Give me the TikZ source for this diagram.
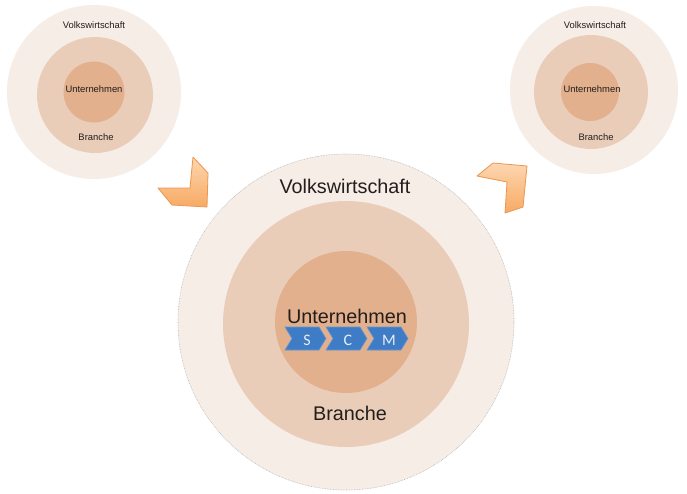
\documentclass[tikz,border=0pt]{standalone}
\usepackage{fontspec}
\setmainfont{Liberation Sans}
\newfontfamily\scmfont{Carlito}
\definecolor{ringA}{RGB}{246,237,231}
\definecolor{ringB}{RGB}{234,205,185}
\definecolor{ringC}{RGB}{226,176,141}
\definecolor{txt}{RGB}{35,30,28}
\definecolor{chevblue}{RGB}{62,124,198}
\definecolor{chevedge}{RGB}{100,150,212}
\definecolor{arrlight}{RGB}{253,214,176}
\definecolor{arrdark}{RGB}{247,170,100}
\definecolor{arredge}{RGB}{236,150,80}
\begin{document}
\begin{tikzpicture}[x=1pt,y=-1pt,
  disc/.style={circle,inner sep=0pt,draw=none},
  bigtext/.style={anchor=base,inner sep=0pt,text=txt,font=\fontsize{19.8}{22}\selectfont},
  smalltext/.style={anchor=base,inner sep=0pt,text=txt,font=\fontsize{9.4}{11}\selectfont},
  scmchev/.style={fill=chevblue,draw=chevedge,line width=0.6pt},
  scmtext/.style={anchor=base,inner sep=0pt,text=white!88!chevblue,font=\scmfont\fontsize{16}{18}\selectfont},
  orangearrow/.style={draw=arredge,line width=0.8pt,line join=round,top color=arrlight,bottom color=arrdark}
]
\useasboundingbox (0,0) rectangle (687,493);
\fill[white] (0,0) rectangle (687,493);

% ---- left small circles ----
\node[disc,fill=ringA,minimum size=174pt] (lo) at (94,92) {};
\node[disc,fill=ringB,minimum size=116pt] (lm) at (95,95) {};
\node[disc,fill=ringC,minimum size=61pt] (li) at (94,92) {};
\node[smalltext] (lv) at (94,28.5) {Volkswirtschaft};
\node[smalltext] (lu) at (94,92.5) {Unternehmen};
\node[smalltext] (lb) at (96,140.5) {Branche};

% ---- right small circles ----
\node[disc,fill=ringA,minimum size=168pt] (ro) at (594,90) {};
\node[disc,fill=ringB,minimum size=114pt] (rm) at (591,92) {};
\node[disc,fill=ringC,minimum size=58pt] (ri) at (590,92) {};
\node[smalltext] (rv) at (595,28.5) {Volkswirtschaft};
\node[smalltext] (ru) at (592,92.5) {Unternehmen};
\node[smalltext] (rb) at (596,140.5) {Branche};

% ---- big circles ----
\node[disc,fill=ringA,draw=black!30,densely dotted,line width=0.6pt,minimum size=336pt] (bo) at (346,322) {};
\node[disc,fill=ringB,minimum size=246pt] (bm) at (346,324) {};
\node[disc,fill=ringC,minimum size=142pt] (bi) at (346,322) {};
\node[bigtext] (bv) at (345,193) {Volkswirtschaft};
\node[bigtext] (bu) at (347,323) {Unternehmen};
\node[bigtext] (bb) at (350,420) {Branche};

% ---- SCM chevrons ----
\foreach \i/\l in {0/S,1/C,2/M}{
  \pgfmathsetmacro{\xa}{285+41*\i}
  \path[scmchev] (\xa,327) -- (\xa+34,327) -- (\xa+41,338.5) -- (\xa+34,350) -- (\xa,350) -- (\xa+7,338.5) -- cycle;
  \node[scmtext] (scm\l) at (\xa+22,345) {\l};
}

% ---- orange arrows ----
\path[orangearrow] (158,188) -- (190,188) -- (193,157) -- (208,173) -- (207,207) -- (172,205) -- cycle;
\path[orangearrow] (477,176) -- (493,163) -- (527,166) -- (523,207) -- (505,213) -- (507,182) -- cycle;
\end{tikzpicture}
\end{document}
